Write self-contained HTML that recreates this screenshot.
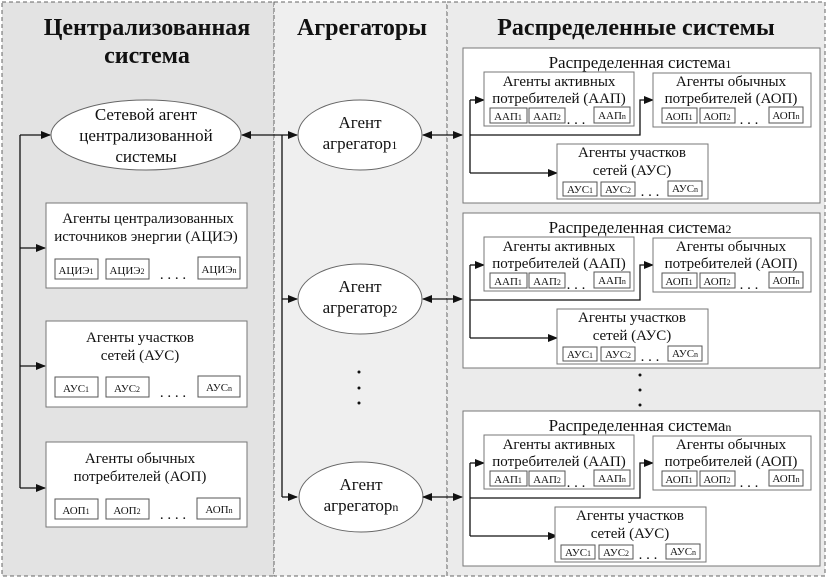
<!DOCTYPE html>
<html><head><meta charset="utf-8"><style>
html,body{margin:0;padding:0;background:#fff}
svg{display:block}
text{font-family:"Liberation Serif","DejaVu Serif",serif;fill:#111}
.t{font-size:15px;text-anchor:middle}
.s{font-size:11px;text-anchor:middle}
.sub{font-size:8px}
.b{fill:#fff;stroke:#777;stroke-width:1}
.sb{fill:#fff;stroke:#555;stroke-width:1}
.ln{stroke:#111;stroke-width:1.3;fill:none}
</style></head><body>
<svg width="827" height="579" viewBox="0 0 827 579" xmlns="http://www.w3.org/2000/svg">
<defs>
<marker id="a" markerWidth="10" markerHeight="8" refX="9" refY="4" orient="auto" markerUnits="userSpaceOnUse"><path d="M0,0 L10,4 L0,8 z" fill="#111"/></marker>
<marker id="as" markerWidth="10" markerHeight="8" refX="1" refY="4" orient="auto" markerUnits="userSpaceOnUse"><path d="M10,0 L0,4 L10,8 z" fill="#111"/></marker>
</defs>
<rect x="0" y="0" width="827" height="579" fill="#fff"/>
<rect x="2" y="2" width="272" height="574" fill="#e3e3e3" stroke="#666" stroke-dasharray="4,3"/>
<rect x="274" y="2" width="173" height="574" fill="#efefef" stroke="#666" stroke-dasharray="4,3"/>
<rect x="447" y="2" width="378" height="574" fill="#ebebeb" stroke="#666" stroke-dasharray="4,3"/>

<g style="font-weight:bold;font-size:24px;text-anchor:middle">
<text x="147" y="35">Централизованная</text>
<text x="147" y="63">система</text>
<text x="362" y="35">Агрегаторы</text>
<text x="636" y="35">Распределенные системы</text>
</g>

<!-- central ellipse -->
<ellipse cx="146" cy="135" rx="95" ry="35" fill="#fff" stroke="#666"/>
<text class="t" x="146" y="120" style="font-size:17px">Сетевой агент</text>
<text class="t" x="146" y="141" style="font-size:17px">централизованной</text>
<text class="t" x="146" y="162" style="font-size:17px">системы</text>

<!-- left connectors -->
<path class="ln" d="M20,135 V488"/>
<path class="ln" d="M20,135 H50" marker-end="url(#a)"/>
<path class="ln" d="M20,248 H45" marker-end="url(#a)"/>
<path class="ln" d="M20,366 H45" marker-end="url(#a)"/>
<path class="ln" d="M20,488 H45" marker-end="url(#a)"/>

<!-- left boxes -->
<rect class="b" x="46" y="203" width="201" height="85"/>
<text class="t" x="148" y="223">Агенты централизованных</text>
<text class="t" x="146" y="241">источников энергии (АЦИЭ)</text>
<rect class="sb" x="55" y="259" width="43" height="20"/><text class="s" x="76" y="274">АЦИЭ<tspan class="sub">1</tspan></text>
<rect class="sb" x="106" y="259" width="43" height="20"/><text class="s" x="127" y="274">АЦИЭ<tspan class="sub">2</tspan></text>
<text class="t" x="173" y="279">. . . .</text>
<rect class="sb" x="198" y="257" width="42" height="22"/><text class="s" x="219" y="273">АЦИЭ<tspan class="sub">n</tspan></text>

<rect class="b" x="46" y="321" width="201" height="86"/>
<text class="t" x="140" y="342">Агенты участков</text>
<text class="t" x="140" y="360">сетей (АУС)</text>
<rect class="sb" x="55" y="377" width="43" height="20"/><text class="s" x="76" y="392">АУС<tspan class="sub">1</tspan></text>
<rect class="sb" x="106" y="377" width="43" height="20"/><text class="s" x="127" y="392">АУС<tspan class="sub">2</tspan></text>
<text class="t" x="173" y="397">. . . .</text>
<rect class="sb" x="198" y="376" width="42" height="21"/><text class="s" x="219" y="391">АУС<tspan class="sub">n</tspan></text>

<rect class="b" x="46" y="442" width="201" height="85"/>
<text class="t" x="140" y="463">Агенты обычных</text>
<text class="t" x="140" y="481">потребителей (АОП)</text>
<rect class="sb" x="55" y="499" width="43" height="20"/><text class="s" x="76" y="514">АОП<tspan class="sub">1</tspan></text>
<rect class="sb" x="106" y="499" width="43" height="20"/><text class="s" x="127" y="514">АОП<tspan class="sub">2</tspan></text>
<text class="t" x="173" y="519">. . . .</text>
<rect class="sb" x="197" y="498" width="43" height="21"/><text class="s" x="219" y="513">АОП<tspan class="sub">n</tspan></text>

<!-- middle -->
<path class="ln" d="M242,135 H297" marker-start="url(#as)" marker-end="url(#a)"/>
<path class="ln" d="M282,135 V497"/>
<path class="ln" d="M282,299 H297" marker-end="url(#a)"/>
<path class="ln" d="M282,497 H297" marker-end="url(#a)"/>

<g>
<ellipse cx="360" cy="135" rx="62" ry="35" fill="#fff" stroke="#666"/>
<text class="t" x="360" y="128" style="font-size:17px">Агент</text>
<text class="t" x="360" y="149" style="font-size:17px">агрегатор<tspan style="font-size:12px">1</tspan></text>
<ellipse cx="360" cy="299" rx="62" ry="35" fill="#fff" stroke="#666"/>
<text class="t" x="360" y="292" style="font-size:17px">Агент</text>
<text class="t" x="360" y="313" style="font-size:17px">агрегатор<tspan style="font-size:12px">2</tspan></text>
<ellipse cx="361" cy="497" rx="62" ry="35" fill="#fff" stroke="#666"/>
<text class="t" x="361" y="490" style="font-size:17px">Агент</text>
<text class="t" x="361" y="511" style="font-size:17px">агрегатор<tspan style="font-size:12px">n</tspan></text>
</g>
<circle cx="359" cy="372" r="1.5" fill="#111"/><circle cx="359" cy="388" r="1.5" fill="#111"/><circle cx="359" cy="403" r="1.5" fill="#111"/>
<circle cx="640" cy="375" r="1.5" fill="#111"/><circle cx="640" cy="390" r="1.5" fill="#111"/><circle cx="640" cy="405" r="1.5" fill="#111"/>

<path class="ln" d="M423,135 H462" marker-start="url(#as)" marker-end="url(#a)"/>
<path class="ln" d="M423,299 H462" marker-start="url(#as)" marker-end="url(#a)"/>
<path class="ln" d="M423,497 H462" marker-start="url(#as)" marker-end="url(#a)"/>

<!-- distributed systems -->
<g id="d1">
<rect class="b" x="463" y="48" width="357" height="155"/>
<text class="t" x="640" y="68" style="font-size:17px">Распределенная система<tspan style="font-size:12px">1</tspan></text>
<path class="ln" d="M470,100 V173"/>
<path class="ln" d="M470,100 H484" marker-end="url(#a)"/>
<path class="ln" d="M470,135 H640 V100 H653" marker-end="url(#a)"/>
<path class="ln" d="M470,173 H557" marker-end="url(#a)"/>
<rect class="b" x="484" y="72" width="150" height="54"/>
<text class="t" x="559" y="86">Агенты активных</text>
<text class="t" x="559" y="103">потребителей (ААП)</text>
<rect class="sb" x="490" y="108" width="37" height="15"/><text class="s" x="508" y="120">ААП<tspan class="sub">1</tspan></text>
<rect class="sb" x="529" y="108" width="36" height="15"/><text class="s" x="547" y="120">ААП<tspan class="sub">2</tspan></text>
<text class="t" x="576" y="124">. . .</text>
<rect class="sb" x="594" y="107" width="36" height="16"/><text class="s" x="612" y="119">ААП<tspan class="sub">n</tspan></text>
<rect class="b" x="653" y="73" width="158" height="54"/>
<text class="t" x="731" y="86">Агенты обычных</text>
<text class="t" x="731" y="103">потребителей (АОП)</text>
<rect class="sb" x="662" y="108" width="35" height="15"/><text class="s" x="679" y="120">АОП<tspan class="sub">1</tspan></text>
<rect class="sb" x="700" y="108" width="35" height="15"/><text class="s" x="717" y="120">АОП<tspan class="sub">2</tspan></text>
<text class="t" x="749" y="124">. . .</text>
<rect class="sb" x="769" y="107" width="34" height="16"/><text class="s" x="786" y="119">АОП<tspan class="sub">n</tspan></text>
<rect class="b" x="557" y="144" width="151" height="55"/>
<text class="t" x="632" y="157">Агенты участков</text>
<text class="t" x="632" y="175">сетей (АУС)</text>
<rect class="sb" x="563" y="182" width="34" height="14"/><text class="s" x="580" y="193">АУС<tspan class="sub">1</tspan></text>
<rect class="sb" x="601" y="182" width="34" height="14"/><text class="s" x="618" y="193">АУС<tspan class="sub">2</tspan></text>
<text class="t" x="650" y="196">. . .</text>
<rect class="sb" x="668" y="181" width="34" height="15"/><text class="s" x="685" y="192">АУС<tspan class="sub">n</tspan></text>
</g>

<g transform="translate(0,165)">
<rect class="b" x="463" y="48" width="357" height="155"/>
<text class="t" x="640" y="68" style="font-size:17px">Распределенная система<tspan style="font-size:12px">2</tspan></text>
<path class="ln" d="M470,100 V173"/>
<path class="ln" d="M470,100 H484" marker-end="url(#a)"/>
<path class="ln" d="M470,135 H640 V100 H653" marker-end="url(#a)"/>
<path class="ln" d="M470,173 H557" marker-end="url(#a)"/>
<rect class="b" x="484" y="72" width="150" height="54"/>
<text class="t" x="559" y="86">Агенты активных</text>
<text class="t" x="559" y="103">потребителей (ААП)</text>
<rect class="sb" x="490" y="108" width="37" height="15"/><text class="s" x="508" y="120">ААП<tspan class="sub">1</tspan></text>
<rect class="sb" x="529" y="108" width="36" height="15"/><text class="s" x="547" y="120">ААП<tspan class="sub">2</tspan></text>
<text class="t" x="576" y="124">. . .</text>
<rect class="sb" x="594" y="107" width="36" height="16"/><text class="s" x="612" y="119">ААП<tspan class="sub">n</tspan></text>
<rect class="b" x="653" y="73" width="158" height="54"/>
<text class="t" x="731" y="86">Агенты обычных</text>
<text class="t" x="731" y="103">потребителей (АОП)</text>
<rect class="sb" x="662" y="108" width="35" height="15"/><text class="s" x="679" y="120">АОП<tspan class="sub">1</tspan></text>
<rect class="sb" x="700" y="108" width="35" height="15"/><text class="s" x="717" y="120">АОП<tspan class="sub">2</tspan></text>
<text class="t" x="749" y="124">. . .</text>
<rect class="sb" x="769" y="107" width="34" height="16"/><text class="s" x="786" y="119">АОП<tspan class="sub">n</tspan></text>
<rect class="b" x="557" y="144" width="151" height="55"/>
<text class="t" x="632" y="157">Агенты участков</text>
<text class="t" x="632" y="175">сетей (АУС)</text>
<rect class="sb" x="563" y="182" width="34" height="14"/><text class="s" x="580" y="193">АУС<tspan class="sub">1</tspan></text>
<rect class="sb" x="601" y="182" width="34" height="14"/><text class="s" x="618" y="193">АУС<tspan class="sub">2</tspan></text>
<text class="t" x="650" y="196">. . .</text>
<rect class="sb" x="668" y="181" width="34" height="15"/><text class="s" x="685" y="192">АУС<tspan class="sub">n</tspan></text>
</g>

<g transform="translate(0,363)">
<rect class="b" x="463" y="48" width="357" height="155"/>
<text class="t" x="640" y="68" style="font-size:17px">Распределенная система<tspan style="font-size:12px">n</tspan></text>
<path class="ln" d="M470,100 V173"/>
<path class="ln" d="M470,100 H484" marker-end="url(#a)"/>
<path class="ln" d="M470,135 H640 V100 H653" marker-end="url(#a)"/>
<path class="ln" d="M470,173 H557" marker-end="url(#a)"/>
<rect class="b" x="484" y="72" width="150" height="54"/>
<text class="t" x="559" y="86">Агенты активных</text>
<text class="t" x="559" y="103">потребителей (ААП)</text>
<rect class="sb" x="490" y="108" width="37" height="15"/><text class="s" x="508" y="120">ААП<tspan class="sub">1</tspan></text>
<rect class="sb" x="529" y="108" width="36" height="15"/><text class="s" x="547" y="120">ААП<tspan class="sub">2</tspan></text>
<text class="t" x="576" y="124">. . .</text>
<rect class="sb" x="594" y="107" width="36" height="16"/><text class="s" x="612" y="119">ААП<tspan class="sub">n</tspan></text>
<rect class="b" x="653" y="73" width="158" height="54"/>
<text class="t" x="731" y="86">Агенты обычных</text>
<text class="t" x="731" y="103">потребителей (АОП)</text>
<rect class="sb" x="662" y="108" width="35" height="15"/><text class="s" x="679" y="120">АОП<tspan class="sub">1</tspan></text>
<rect class="sb" x="700" y="108" width="35" height="15"/><text class="s" x="717" y="120">АОП<tspan class="sub">2</tspan></text>
<text class="t" x="749" y="124">. . .</text>
<rect class="sb" x="769" y="107" width="34" height="16"/><text class="s" x="786" y="119">АОП<tspan class="sub">n</tspan></text>
<rect class="b" x="555" y="144" width="151" height="55"/>
<text class="t" x="630" y="157">Агенты участков</text>
<text class="t" x="630" y="175">сетей (АУС)</text>
<rect class="sb" x="561" y="182" width="34" height="14"/><text class="s" x="578" y="193">АУС<tspan class="sub">1</tspan></text>
<rect class="sb" x="599" y="182" width="34" height="14"/><text class="s" x="616" y="193">АУС<tspan class="sub">2</tspan></text>
<text class="t" x="648" y="196">. . .</text>
<rect class="sb" x="666" y="181" width="34" height="15"/><text class="s" x="683" y="192">АУС<tspan class="sub">n</tspan></text>
</g>
</svg>
</body></html>
